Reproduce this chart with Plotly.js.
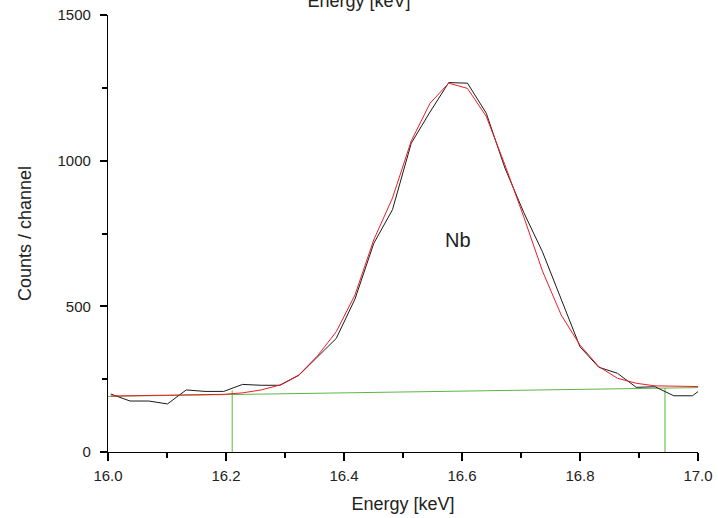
<!DOCTYPE html>
<html>
<head>
<meta charset="utf-8">
<script src="https://cdn.plot.ly/plotly-3.0.1.min.js"></script>
<style>html,body{margin:0;padding:0;background:#fff;}#chart{width:718px;height:518px;}</style>
</head>
<body>
<div id="chart"></div>
<script>
// Channel energies (keV)
const energy = [16.0047, 16.0373, 16.0691, 16.1008, 16.1326, 16.1644, 16.1962, 16.2280, 16.2597, 16.2915,
  16.3233, 16.3551, 16.3869, 16.4186, 16.4504, 16.4822, 16.5140, 16.5458, 16.5775, 16.6093,
  16.6411, 16.6729, 16.7047, 16.7364, 16.7682, 16.8000, 16.8318, 16.8636, 16.8953, 16.9271,
  16.9589, 16.9907, 17.0225];
// Measured counts per channel
const counts = [199, 175, 175, 165, 213, 208, 208, 232, 229, 229,
  263, 327, 390, 525, 716, 832, 1060, 1167, 1268, 1266,
  1163, 974, 822, 687, 525, 361, 291, 270, 222, 224,
  193, 193, 242];
// Fitted curve
const fit = [192, 193, 195, 196, 196, 197, 198, 203, 213, 230,
  264, 330, 413, 539, 728, 872, 1068, 1197, 1266, 1248,
  1152, 985, 807, 621, 470, 367, 293, 253, 236, 227,
  225, 224, 224];
// Background line and integration limits
const bgX = [16.0, 17.0];
const bgY = [191, 221];
const limitLeftX = [16.2107, 16.2107];
const limitLeftY = [0, 212];
const limitRightX = [16.944, 16.944];
const limitRightY = [0, 219];
const peakLabel = 'Nb';
const peakLabelX = 16.593;
const peakLabelY = 728;

const traces = [
  {x: limitLeftX, y: limitLeftY, mode: 'lines', line: {color: '#8dcf78', width: 1.5}, hoverinfo: 'skip'},
  {x: limitRightX, y: limitRightY, mode: 'lines', line: {color: '#8dcf78', width: 1.5}, hoverinfo: 'skip'},
  {x: bgX, y: bgY, mode: 'lines', line: {color: '#5cb548', width: 1}},
  {x: energy, y: counts, mode: 'lines', line: {color: '#1a1a1a', width: 1}},
  {x: energy, y: fit, mode: 'lines', line: {color: '#ee1c24', width: 1}}
];

const fam = 'Liberation Sans, Arial, sans-serif';
const tickFont = {family: fam, size: 15, color: '#222'};
const titleFont = {family: fam, size: 18, color: '#222'};
const layout = {
  width: 718, height: 518,
  margin: {l: 108, r: 20, t: 15, b: 66},
  paper_bgcolor: '#fff', plot_bgcolor: '#fff',
  showlegend: false,
  title: {text: 'Energy [keV]', font: titleFont,
          x: 0.5, xref: 'container', xanchor: 'center', y: 0.998, yref: 'container', yanchor: 'middle'},
  xaxis: {
    range: [16.0, 17.0], tick0: 16, dtick: 0.2, tickformat: '.1f',
    ticks: 'outside', ticklen: 8, tickwidth: 2, tickcolor: '#000000', ticklabelstandoff: 2,
    minor: {dtick: 0.1, ticks: 'outside', ticklen: 5, tickwidth: 2, tickcolor: '#000000', showgrid: false},
    showline: true, linecolor: '#000', linewidth: 1.2, showgrid: false, zeroline: false,
    tickfont: tickFont,
    title: {text: 'Energy [keV]', font: titleFont, standoff: 14}
  },
  yaxis: {
    range: [0, 1500], tick0: 0, dtick: 500,
    ticks: 'outside', ticklen: 7, tickwidth: 2, tickcolor: '#000000', ticklabelstandoff: 6,
    minor: {dtick: 250, ticks: 'outside', ticklen: 5, tickwidth: 2, tickcolor: '#000000', showgrid: false},
    showline: true, linecolor: '#000', linewidth: 1.2, showgrid: false, zeroline: false,
    tickfont: tickFont,
    title: {text: 'Counts / channel', font: titleFont, standoff: 21}
  },
  annotations: [{x: peakLabelX, y: peakLabelY, xref: 'x', yref: 'y', text: peakLabel, showarrow: false,
    font: {family: fam, size: 20, color: '#222'}}]
};

Plotly.newPlot('chart', traces, layout, {displayModeBar: false});
</script>
</body>
</html>
